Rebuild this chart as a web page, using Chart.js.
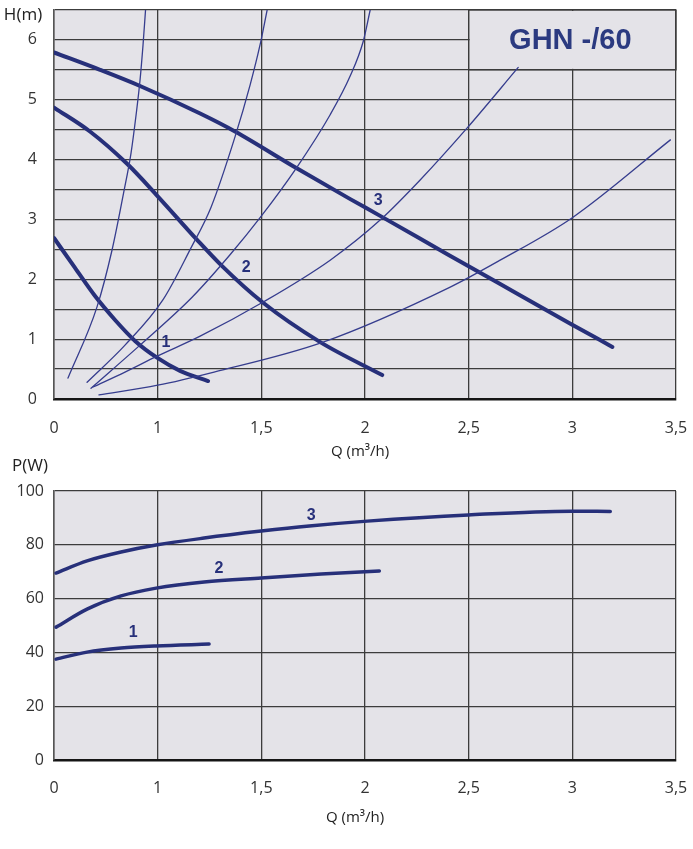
<!DOCTYPE html>
<html><head><meta charset="utf-8">
<script src="https://cdn.jsdelivr.net/npm/chart.js@4.4.1/dist/chart.umd.min.js"></script>
<style>
html,body{margin:0;padding:0;background:#fff;}
#wrap{position:relative;width:693px;height:849px;overflow:hidden;}
canvas{position:absolute;left:0;}
</style></head><body>
<div id="wrap">
<canvas id="c1" width="693" height="470" style="top:0;width:693px;height:470px"></canvas>
<canvas id="c2" width="693" height="397" style="top:452px;width:693px;height:397px"></canvas>
</div>
<script>
// ---------- DATA ----------
const qTicks = [0, 1, 1.5, 2, 2.5, 3, 3.5];
const chartTitle = 'GHN -/60';
const hAxisTitle = 'H(m)';
const pAxisTitle = 'P(W)';
const qAxisTitle = 'Q (m³/h)';
const curveNames = ['1', '2', '3'];

// pump head curves (Q m3/h, H m)
const head1Q = [0, 0.203, 0.396, 0.589, 0.782, 0.994, 1.108, 1.243];
const head1H = [2.69, 2.19, 1.72, 1.32, 0.97, 0.69, 0.47, 0.30];
const head2Q = [0, 0.347, 0.705, 0.994, 1.190, 1.311, 1.504, 1.784, 2.083];
const head2H = [4.87, 4.47, 3.93, 3.40, 2.66, 2.22, 1.62, 0.95, 0.40];
const head3Q = [0, 0.444, 0.830, 1.205, 1.373, 1.673, 1.929, 2.073, 2.397, 2.652, 2.995, 3.193];
const head3H = [5.79, 5.50, 5.23, 4.77, 4.47, 3.85, 3.34, 3.06, 2.42, 1.92, 1.25, 0.87];

// system (resistance) curves
const sysAQ = [0.135, 0.415, 0.560, 0.671, 0.743, 0.792, 0.830, 0.859, 0.883];
const sysAH = [0.35, 1.54, 2.49, 3.44, 4.11, 4.75, 5.33, 5.92, 6.5];
const sysBQ = [0.319, 0.685, 1.026, 1.157, 1.258, 1.373, 1.446, 1.494, 1.528];
const sysBH = [0.28, 0.90, 1.66, 2.50, 3.21, 4.38, 5.25, 5.92, 6.5];
const sysCQ = [0.357, 0.830, 1.166, 1.349, 1.494, 1.673, 1.832, 1.929, 1.991, 2.025];
const sysCH = [0.18, 0.90, 1.70, 2.41, 3.03, 3.88, 4.75, 5.40, 5.97, 6.5];
const sysDQ = [0.376, 0.685, 1.0, 1.205, 1.509, 1.832, 2.073, 2.266, 2.493, 2.739];
const sysDH = [0.20, 0.45, 0.72, 1.05, 1.62, 2.32, 2.99, 3.66, 4.53, 5.54];
const sysEQ = [0.434, 1.0, 1.272, 1.798, 2.411, 2.652, 3.0, 3.473];
const sysEH = [0.07, 0.23, 0.45, 0.95, 1.87, 2.32, 3.03, 4.33];

// power curves (Q m3/h, P W)
const pow1Q = [0.02, 0.319, 0.647, 0.985, 1.248];
const pow1P = [37.5, 40.1, 41.6, 42.4, 43.1];
const pow2Q = [0.02, 0.319, 0.647, 0.985, 1.224, 1.499, 1.789, 2.069];
const pow2P = [49.4, 56.1, 61.0, 63.9, 66.2, 67.7, 69.1, 70.3];
const pow3Q = [0.02, 0.319, 0.647, 0.985, 1.224, 1.499, 1.731, 2.011, 2.498, 2.995, 3.183];
const pow3P = [69.5, 74.0, 77.3, 79.9, 82.5, 85.1, 87.0, 88.8, 91.1, 92.5, 92.4];

// curve number label anchors (Q, value)
const headLabelQ = [1.04, 1.427, 2.064];
const headLabelH = [0.95, 2.19, 3.31];
const powLabelQ = [0.763, 1.296, 1.74];
const powLabelP = [47.2, 71.0, 90.7];

// ---------- STYLE ----------
const NAVY = '#27307a';
const THIN = '#363d8e';
const GRID = '#3c3c3c';
const BG = '#e4e3e8';
const TICKFONT = {family: '"Open Sans", sans-serif', size: 16};

// custom Q scale: first interval 0..1 has the same width as the later 0.5 steps
class SplitQScale extends Chart.LinearScale {
  getPixelForValue(v) {
    const p = v <= 1 ? v : 1 + (v - 1) * 2;
    return this.left + (p / 6) * this.width;
  }
  getValueForPixel(px) {
    const p = (px - this.left) / this.width * 6;
    return p <= 1 ? p : 1 + (p - 1) / 2;
  }
  buildTicks() { return qTicks.map(v => ({value: v})); }
}
SplitQScale.id = 'splitQ';
SplitQScale.defaults = Chart.LinearScale.defaults;
Chart.register(SplitQScale);

function pts(qs, vs) { return qs.map((q, i) => ({x: q, y: vs[i]})); }
function thick(qs, vs, w) {
  return {data: pts(qs, vs), borderColor: NAVY, borderWidth: w, pointRadius: 0,
    cubicInterpolationMode: 'monotone', borderCapStyle: 'round', fill: false};
}
function thin(qs, vs) {
  return {data: pts(qs, vs), borderColor: THIN, borderWidth: 1.3, pointRadius: 0,
    cubicInterpolationMode: 'monotone', borderCapStyle: 'round', fill: false};
}

function xScale(pad, h) {
  return {
    type: 'splitQ', min: 0, max: 3.5,
    grid: {color: GRID, lineWidth: 1.3, drawTicks: false},
    border: {display: true, color: '#151515', width: 2.5},
    ticks: {font: TICKFONT, color: '#333', padding: pad, autoSkip: false, maxRotation: 0,
      callback: v => String(v).replace('.', ',')},
    afterFit: s => { s.height = h; s.paddingLeft = 0; s.paddingRight = 0; }
  };
}
function yScale(max, step, pad, cb) {
  return {
    type: 'linear', min: 0, max: max,
    grid: {color: GRID, lineWidth: 1.3, drawTicks: false},
    border: {display: true, color: '#555', width: 1.5},
    ticks: {font: TICKFONT, color: '#333', padding: pad, stepSize: step, autoSkip: false, callback: cb},
    afterFit: s => { s.width = 54; s.paddingTop = 0; s.paddingBottom = 0; }
  };
}

const bgPlugin = {
  id: 'bg',
  beforeDraw(chart) {
    const a = chart.chartArea, ctx = chart.ctx;
    ctx.save(); ctx.fillStyle = BG;
    ctx.fillRect(a.left, a.top, a.right - a.left, a.bottom - a.top);
    ctx.restore();
  }
};

function textPlugin(id, opts) {
  return {
    id: id,
    beforeDatasetsDraw(chart) {
      if (opts.box) opts.box(chart);
    },
    afterDraw(chart) {
      const ctx = chart.ctx, x = chart.scales.x, y = chart.scales.y;
      ctx.save();
      ctx.fillStyle = NAVY; ctx.font = 'bold 16px "Liberation Sans", Arial, sans-serif';
      ctx.textAlign = 'center'; ctx.textBaseline = 'middle';
      opts.lq.forEach((q, i) => ctx.fillText(curveNames[i], x.getPixelForValue(q), y.getPixelForValue(opts.lv[i])));
      ctx.fillStyle = '#222'; ctx.font = '17px "Open Sans", sans-serif';
      ctx.fillText(opts.yTitle, opts.yTitlePos[0], opts.yTitlePos[1]);
      ctx.font = '15px "Open Sans", sans-serif';
      ctx.fillText(qAxisTitle, opts.xTitlePos[0], opts.xTitlePos[1]);
      ctx.restore();
    }
  };
}

function titleBox(chart) {
  const ctx = chart.ctx, x = chart.scales.x, y = chart.scales.y;
  const l = x.getPixelForValue(2.5), r = x.getPixelForValue(3.5);
  const t = y.getPixelForValue(6.5), b = y.getPixelForValue(5.5);
  ctx.save();
  ctx.fillStyle = BG; ctx.fillRect(l + 1, t + 1, r - l - 2, b - t - 2);
  ctx.strokeStyle = GRID; ctx.lineWidth = 1.3;
  ctx.strokeRect(l, t, r - l, b - t);
  ctx.fillStyle = '#2b3a80'; ctx.font = 'bold 29px "Liberation Sans", Arial, sans-serif';
  ctx.textAlign = 'center'; ctx.textBaseline = 'middle';
  ctx.fillText(chartTitle, (l + r) / 2 - 2, (t + b) / 2 + 1);
  ctx.restore();
}

const common = {
  responsive: false, animation: false,
  plugins: {legend: {display: false}, tooltip: {enabled: false}},
  events: []
};

new Chart(document.getElementById('c1'), {
  type: 'line',
  data: {datasets: [
    thin(sysAQ, sysAH), thin(sysBQ, sysBH), thin(sysCQ, sysCH), thin(sysDQ, sysDH), thin(sysEQ, sysEH),
    thick(head1Q, head1H, 4), thick(head2Q, head2H, 4), thick(head3Q, head3H, 4)
  ]},
  options: Object.assign({}, common, {
    layout: {padding: {left: 0, right: 17, top: 10, bottom: 0}},
    scales: {
      x: xScale(20, 71),
      y: yScale(6.5, 0.5, 17, v => Number.isInteger(v) ? String(v) : '')
    }
  }),
  plugins: [bgPlugin, textPlugin('t1', {box: titleBox, lq: headLabelQ, lv: headLabelH,
    yTitle: hAxisTitle, yTitlePos: [23, 15], xTitlePos: [360, 452]})]
});

new Chart(document.getElementById('c2'), {
  type: 'line',
  data: {datasets: [
    thick(pow1Q, pow1P, 3.5), thick(pow2Q, pow2P, 3.5), thick(pow3Q, pow3P, 3.5)
  ]},
  options: Object.assign({}, common, {
    layout: {padding: {left: 0, right: 17, top: 39, bottom: 0}},
    scales: {
      x: xScale(19, 89),
      y: yScale(100, 20, 10, v => String(v))
    }
  }),
  plugins: [bgPlugin, textPlugin('t2', {lq: powLabelQ, lv: powLabelP,
    yTitle: pAxisTitle, yTitlePos: [30, 14], xTitlePos: [355, 366]})]
});
</script>
</body></html>
